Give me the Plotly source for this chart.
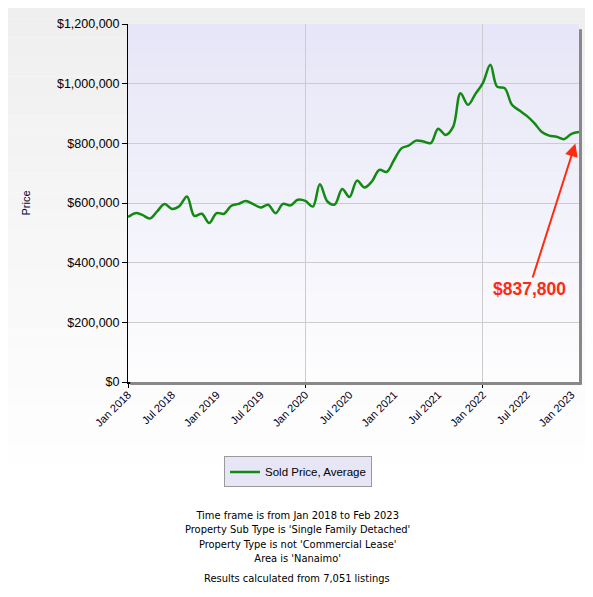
import pandas as pd
import plotly.graph_objects as go

# monthly average sold price, Jan 2018 .. Feb 2023
months = pd.date_range("2018-01-01", "2023-02-01", freq="MS")
avg_price = [
    553000, 566000, 560000, 548000, 572000, 597000, 580000, 590000, 622000, 557000,
    564000, 533000, 566000, 564000, 590000, 597000, 607000, 596000, 585000, 594000,
    566000, 597000, 592000, 611000, 607000, 588000, 663000, 605000, 595000, 647000,
    620000, 675000, 652000, 672000, 711000, 704000, 745000, 784000, 792000, 809000,
    806000, 801000, 849000, 828000, 856000, 968000, 929000, 965000, 1002000, 1063000,
    990000, 985000, 929000, 910000, 892000, 868000, 838000, 826000, 822000, 814000,
    832000, 837800,
]
series_name = "Sold Price, Average"
last_label = "$837,800"
notes = [
    "Time frame is from Jan 2018 to Feb 2023",
    "Property Sub Type is 'Single Family Detached'",
    "Property Type is not 'Commercial Lease'",
    "Area is 'Nanaimo'",
]
footer = "Results calculated from 7,051 listings"

note_font = dict(family="DejaVu Sans Condensed, DejaVu Sans, sans-serif", size=11, color="#000000")

fig = go.Figure()
fig.add_trace(go.Scatter(
    x=months, y=avg_price, mode="lines", name=series_name,
    line=dict(color="#128a12", width=2.5, shape="spline", smoothing=1.0),
))
# copy on the second x axis so that axis (2-year grid) is drawn
fig.add_trace(go.Scatter(
    x=months, y=avg_price, mode="lines", xaxis="x2", showlegend=False,
    line=dict(color="rgba(0,0,0,0)", width=0), hoverinfo="skip",
))

shapes = []
# soft vertical gradients: page and plot area
n = 24
for i in range(n):
    t = i / n
    g = int(239 + (255 - 239) * t)
    shapes.append(dict(type="rect", xref="paper", yref="paper", layer="below",
                       x0=-0.3, x1=1.05, y0=1.07 - 1.3 * (i + 1) / n, y1=1.07 - 1.3 * i / n,
                       fillcolor=f"rgb({g},{g},{g})", line_width=0))
for i in range(n):
    t = i / n
    r = int(230 + (255 - 230) * t)
    b = int(248 + (255 - 248) * t)
    shapes.append(dict(type="rect", xref="x domain", yref="y domain", layer="below",
                       x0=0, x1=1, y0=1 - (i + 1) / n, y1=1 - i / n,
                       fillcolor=f"rgb({r},{r},{b})", line_width=0))
# drop shadow on right and bottom of plot area
shapes.append(dict(type="rect", xref="paper", yref="paper", xsizemode="pixel", xanchor=1,
                   x0=0, x1=3, y0=-0.006, y1=0.985, fillcolor="#888888", line_width=0))
shapes.append(dict(type="rect", xref="paper", yref="paper", ysizemode="pixel", yanchor=0,
                   x0=0.005, x1=1.006, y0=-3, y1=0, fillcolor="#888888", line_width=0))

# page body has an 8px margin, so the figure is a bit smaller than the window
fig.update_layout(
    width=577, height=581,
    margin=dict(l=120, r=6, t=16, b=207),
    paper_bgcolor="white", plot_bgcolor="rgba(0,0,0,0)",
    font=dict(family="Liberation Sans, Arial, sans-serif", size=12, color="#000000"),
    shapes=shapes,
    showlegend=True,
    legend=dict(x=0.377, y=-0.208, xanchor="center", yanchor="top",
                bgcolor="#e6e6f6", bordercolor="#9a9a9a", borderwidth=1,
                font=dict(family="Liberation Sans, Arial, sans-serif", size=11.5)),
    xaxis=dict(
        range=["2018-01-01", "2023-02-01"], dtick="M6", tick0="2018-01-01",
        tickformat="%b %Y", tickangle=-45, showgrid=False, ticks="",
        tickfont=dict(size=11, color="#000022"),
        showline=True, linecolor="#000000", linewidth=2, zeroline=False,
    ),
    xaxis2=dict(
        overlaying="x", side="bottom", range=["2018-01-01", "2023-02-01"],
        dtick="M24", tick0="2018-01-01", showticklabels=False,
        showgrid=True, gridcolor="#cccccc", gridwidth=1,
        ticks="outside", ticklen=5, tickcolor="#000000", zeroline=False,
    ),
    yaxis=dict(
        range=[0, 1200000], dtick=200000, tickprefix="$", tickformat=",d",
        showgrid=True, gridcolor="#cccccc", gridwidth=1,
        ticks="outside", ticklen=5, tickcolor="#000000",
        tickfont=dict(size=12.5),
        showline=True, linecolor="#000000", linewidth=1, zeroline=False,
        title=dict(text="Price", standoff=24, font=dict(size=11, color="#000033")),
    ),
    annotations=[
        dict(x=months[-1], y=avg_price[-1], xref="x", yref="y", text="<b>" + last_label + "</b>",
             showarrow=True, arrowhead=2, arrowsize=1.3, arrowwidth=2, arrowcolor="#ff2a10",
             standoff=12, ax=-50, ay=157,
             font=dict(size=17.5, color="#ff2a10", family="Liberation Sans, Arial, sans-serif")),
        dict(x=0.375, y=-0.348, xref="paper", yref="paper", xanchor="center", yanchor="top",
             text="<br>".join(notes), showarrow=False, align="center", font=note_font),
        dict(x=0.375, y=-0.526, xref="paper", yref="paper", xanchor="center", yanchor="top",
             text=footer, showarrow=False, font=note_font),
    ],
)

fig.write_html("out.html")
